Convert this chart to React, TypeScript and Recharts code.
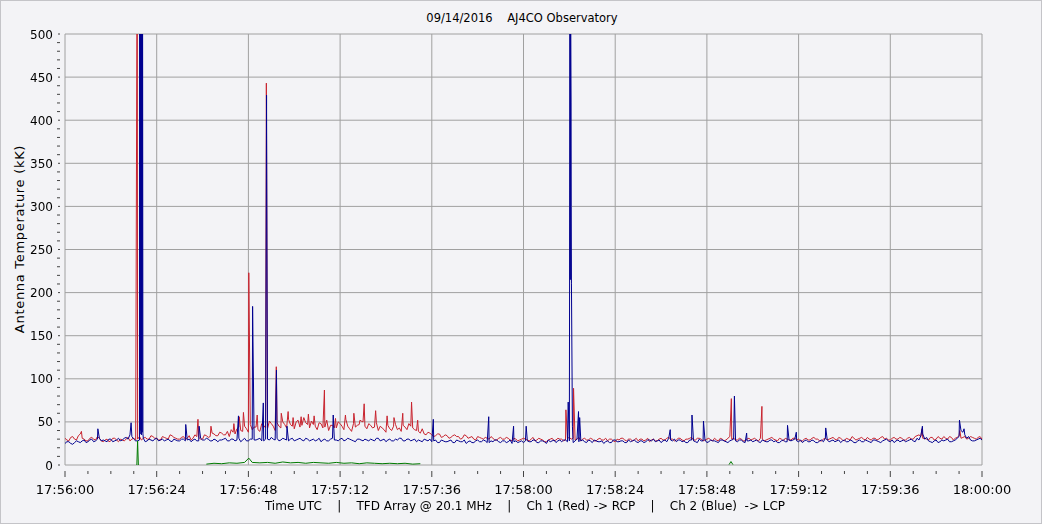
import { CartesianGrid, Line, LineChart, XAxis, YAxis } from "recharts";

// seconds after 17:56:00: readings on the whole second ...
const redBase = [
  31, 28, 33, 29, 36, 30, 28, 32, 29, 31,
  27, 30, 28, 31, 27, 29, 30, 28, 31, 30,
  29, 32, 30, 33, 31, 29, 32, 30, 34, 31,
  30, 33, 31, 29, 35, 32, 30, 34, 33, 36,
  34, 37, 35, 33, 38, 42, 40, 45, 38, 41,
  44, 39, 46, 42, 48, 40, 45, 50, 43, 47,
  42, 52, 46, 49, 43, 47, 41, 48, 44, 40,
  46, 43, 48, 41, 45, 39, 44, 47, 50, 42,
  46, 44, 40, 43, 38, 42, 45, 41, 39, 44,
  48, 43, 40, 37, 36, 38, 35, 34, 36, 33,
  34, 32, 35, 33, 31, 34, 32, 30, 33, 31,
  32, 30, 31, 29, 32, 30, 31, 28, 30, 29,
  31, 29, 30, 28, 31, 29, 27, 30, 28, 31,
  30, 29, 32, 31, 30, 28, 31, 29, 30, 28,
  31, 29, 28, 30, 27, 29, 31, 28, 30, 29,
  28, 30, 29, 27, 30, 28, 31, 29, 32, 30,
  29, 31, 28, 30, 32, 29, 31, 28, 30, 29,
  31, 28, 30, 29, 33, 31, 29, 30, 28, 31,
  30, 29, 31, 28, 30, 32, 29, 31, 28, 30,
  29, 31, 30, 28, 31, 29, 32, 30, 28, 31,
  30, 32, 29, 31, 28, 30, 33, 29, 31, 30,
  32, 29, 31, 30, 33, 31, 29, 32, 30, 31,
  29, 32, 30, 34, 33, 31, 29, 32, 30, 31,
  33, 30, 32, 31, 34, 32, 30, 33, 31, 32,
  30,
];

// ... and on the half second
const redHalf = [
  29, 32, 30, 34, 31, 28, 31, 30, 33, 28,
  29, 27, 31, 29, 30, 28, 32, 30, 29, 33,
  31, 30, 34, 31, 29, 33, 31, 35, 32, 30,
  32, 30, 34, 31, 33, 30, 35, 32, 37, 34,
  38, 35, 39, 41, 36, 44, 39, 42, 47, 44,
  41, 48, 43, 51, 45, 49, 43, 47, 53, 45,
  50, 44, 55, 47, 51, 45, 49, 43, 52, 46,
  43, 50, 45, 53, 42, 48, 46, 51, 45, 48,
  43, 49, 45, 41, 46, 40, 47, 43, 46, 41,
  45, 41, 39, 42, 35, 37, 33, 36, 32, 35,
  31, 34, 33, 30, 35, 31, 33, 29, 32, 30,
  31, 33, 29, 31, 30, 32, 29, 31, 28, 30,
  30, 28, 32, 29, 30, 27, 29, 31, 29, 30,
  28, 31, 30, 29, 32, 30, 29, 31, 28, 30,
  29, 31, 30, 28, 30, 31, 29, 30, 28, 31,
  30, 28, 31, 29, 28, 30, 29, 31, 30, 28,
  31, 29, 30, 31, 29, 31, 30, 29, 31, 28,
  29, 31, 28, 31, 30, 29, 31, 28, 30, 29,
  31, 28, 30, 29, 31, 30, 28, 30, 31, 29,
  31, 29, 28, 30, 29, 31, 30, 28, 30, 29,
  31, 30, 32, 29, 31, 29, 31, 30, 32, 29,
  30, 31, 29, 32, 30, 29, 31, 30, 32, 29,
  31, 30, 33, 35, 31, 30, 32, 29, 33, 30,
  31, 33, 29, 32, 31, 33, 31, 32, 30, 33,
];

const blueBase = [
  25, 27, 24, 28, 26, 29, 27, 30, 28, 31,
  29, 27, 30, 28, 31, 29, 32, 35, 30, 28,
  35, 27, 30, 28, 31, 29, 28, 30, 27, 29,
  28, 30, 29, 27, 30, 28, 29, 31, 28, 30,
  27, 29, 31, 28, 30, 29, 27, 31, 28, 30,
  29, 31, 28, 30, 32, 29, 28, 31, 29, 30,
  28, 30, 29, 31, 28, 30, 29, 27, 30, 28,
  31, 29, 30, 28, 31, 29, 27, 30, 28, 29,
  30, 28, 31, 29, 27, 30, 28, 29, 31, 28,
  30, 29, 27, 28, 30, 28, 27, 29, 26, 28,
  27, 29, 26, 28, 27, 25, 28, 26, 29, 27,
  28, 26, 27, 29, 26, 28, 27, 25, 28, 27,
  26, 28, 27, 29, 26, 28, 25, 27, 29, 28,
  27, 29, 28, 26, 30, 28, 27, 29, 26, 28,
  27, 25, 28, 26, 29, 27, 28, 26, 27, 29,
  26, 28, 27, 29, 30, 28, 26, 29, 31, 28,
  27, 29, 28, 26, 29, 27, 30, 28, 26, 29,
  28, 26, 29, 27, 28, 30, 27, 29, 26, 28,
  27, 29, 26, 28, 27, 29, 28, 26, 29, 27,
  28, 30, 27, 26, 29, 27, 28, 26, 29, 31,
  27, 29, 28, 26, 29, 27, 28, 26, 29, 27,
  28, 26, 29, 27, 28, 30, 27, 26, 29, 28,
  27, 29, 28, 31, 34, 30, 28, 26, 29, 27,
  28, 30, 27, 29, 33, 38, 31, 29, 28, 30,
  29,
];

const blueHalf = [
  27, 25, 26, 27, 28, 26, 29, 27, 30, 28,
  28, 30, 27, 29, 28, 31, 30, 33, 28, 29,
  31, 28, 29, 30, 28, 30, 29, 28, 30, 28,
  30, 28, 30, 29, 28, 31, 29, 30, 28, 29,
  29, 30, 28, 30, 28, 31, 29, 28, 30, 29,
  30, 28, 30, 29, 30, 31, 29, 30, 28, 31,
  29, 31, 28, 30, 29, 28, 31, 29, 28, 30,
  29, 28, 31, 29, 30, 28, 30, 29, 30, 28,
  29, 31, 28, 30, 29, 28, 30, 31, 28, 30,
  28, 30, 29, 27, 29, 30, 28, 26, 29, 27,
  28, 26, 29, 27, 29, 27, 26, 28, 27, 29,
  26, 28, 29, 27, 28, 26, 29, 27, 26, 28,
  28, 27, 29, 26, 28, 27, 29, 28, 26, 29,
  29, 27, 300, 28, 27, 29, 26, 28, 29, 27,
  28, 27, 26, 29, 27, 28, 26, 29, 28, 27,
  28, 26, 29, 28, 27, 29, 28, 27, 29, 30,
  29, 27, 26, 29, 28, 26, 28, 29, 27, 28,
  27, 29, 28, 26, 29, 28, 29, 27, 28, 29,
  28, 27, 29, 27, 29, 27, 26, 28, 27, 29,
  29, 28, 29, 28, 27, 29, 26, 28, 27, 29,
  28, 27, 29, 28, 27, 29, 26, 28, 27, 29,
  27, 29, 28, 26, 29, 28, 29, 28, 27, 29,
  28, 30, 27, 29, 36, 32, 27, 28, 26, 29,
  29, 27, 28, 31, 40, 35, 33, 28, 29, 31,
];

// [seconds, kK] short bursts between the regular readings
const redSpikes: [number, number][] = [
  [4.3, 39], [18.9, 640], [34.8, 53], [38.2, 45], [44.2, 48], [45.6, 56],
  [46.7, 61], [48.1, 223], [50.3, 58], [52.7, 443], [55.3, 114], [56.6, 60],
  [58.4, 62], [59.7, 55], [61.8, 56], [63.7, 59], [65.2, 57], [67.9, 87],
  [70.8, 54], [73.4, 58], [75.6, 60], [77.2, 52], [78.3, 71], [81.3, 63],
  [84.3, 57], [86.1, 55], [88.4, 60], [90.7, 73], [92.3, 52], [131.1, 64],
  [133.1, 89], [174.4, 77], [182.4, 68], [224.3, 42], [234.2, 40],
];

const blueSpikes: [number, number][] = [
  [8.6, 42], [17.3, 49],
  [19.55, 600], [19.65, 36], [19.75, 620], [19.85, 40], [19.95, 610],
  [20.1, 600], [20.2, 38], [20.3, 580], [20.4, 36],
  [31.6, 47], [35.1, 45], [45.4, 57], [49.1, 184], [51.9, 72],
  [52.75, 429], [55.35, 110], [58.1, 45], [70.2, 58], [96.4, 53], [110.9, 56],
  [117.4, 45], [120.7, 45], [131.7, 73],
  [132.15, 505], [132.25, 215], [132.35, 500], [132.45, 420], [132.55, 211],
  [132.8, 45], [134.4, 62], [134.7, 55], [158.4, 41], [164.1, 58], [167.1, 51],
  [175.2, 80], [178.4, 37], [189.1, 46], [191.4, 38], [199.1, 43], [224.4, 45],
  [234.1, 52], [235.3, 42],
];

const greenPoints: [number, number | null][] = [
  [18.8, 0], [19.0, 28], [19.2, 0], [20, null],
  [37, 1], [39, 2], [41, 1.5], [43, 2.5], [45, 2], [47, 3], [48.1, 8], [49, 3],
  [51, 2.5], [53, 3], [55, 2], [57, 3.5], [59, 2.5], [61, 3], [63, 2], [65, 3],
  [67, 2.5], [69, 2], [71, 3], [73, 2], [75, 2.5], [77, 1.5], [79, 2.5], [81, 2],
  [83, 1.5], [85, 2], [87, 1.5], [89, 2], [91, 1], [93, 1.5], [94, null],
  [173.8, 0.5], [174.3, 4], [174.8, 0.5], [175, null],
];

const timeLabels = [
  "17:56:00", "17:56:24", "17:56:48", "17:57:12", "17:57:36", "17:58:00",
  "17:58:24", "17:58:48", "17:59:12", "17:59:36", "18:00:00",
];

const buildSeries = (base: number[], half: number[], spikes: [number, number][]) =>
  [
    ...base.map((v, i) => ({ t: i, v })),
    ...half.map((v, i) => ({ t: i + 0.5, v })),
    ...spikes.map(([t, v]) => ({ t, v })),
  ].sort((a, b) => a.t - b.t);

const redData = buildSeries(redBase, redHalf, redSpikes);
const blueData = buildSeries(blueBase, blueHalf, blueSpikes);
const greenData = greenPoints.map(([t, v]) => ({ t, v }));

const xTicks: number[] = [];
for (let s = 0; s <= 240; s += 6) xTicks.push(s);
const yTicks: number[] = [];
for (let k = 0; k <= 500; k += 10) yTicks.push(k);

const FONT = "'DejaVu Sans', Verdana, sans-serif";

const XTick = (props: any) => {
  const { x, y, payload } = props;
  const major = payload.value % 24 === 0;
  return (
    <g>
      <line x1={x} x2={x} y1={y + 6} y2={y + (major ? 12 : 9)} stroke="#444" />
      {major ? (
        <text x={x} y={y + 29} textAnchor="middle" fontSize={13} fontFamily={FONT} fill="#000">
          {timeLabels[payload.value / 24]}
        </text>
      ) : null}
    </g>
  );
};

const YTick = (props: any) => {
  const { x, y, payload } = props;
  const major = payload.value % 50 === 0;
  return (
    <g>
      <line x1={x - (major ? 7 : 8)} x2={x - 5} y1={y} y2={y} stroke="#444" />
      {major ? (
        <text x={x - 12} y={y + 4.5} textAnchor="end" fontSize={12} fontFamily={FONT} fill="#000">
          {payload.value}
        </text>
      ) : null}
    </g>
  );
};

export default function App() {
  return (
    <div
      style={{
        position: "fixed",
        left: 0,
        top: 0,
        width: 1042,
        height: 524,
        background: "#f3f3f6",
        border: "1px solid #c4c4c8",
        boxSizing: "border-box",
        fontFamily: FONT,
        color: "#000",
      }}
    >
      <div
        style={{
          position: "absolute",
          left: 0,
          top: 10,
          width: 1042,
          textAlign: "center",
          fontSize: 11.5,
          whiteSpace: "pre",
        }}
      >
        {"09/14/2016    AJ4CO Observatory"}
      </div>
      <div
        style={{
          position: "absolute",
          left: 10,
          top: 238,
          transform: "translate(-50%, -50%) rotate(-90deg)",
          marginLeft: 8,
          fontSize: 13,
          letterSpacing: 0.7,
          whiteSpace: "pre",
        }}
      >
        Antenna Temperature (kK)
      </div>
      <div
        style={{
          position: "absolute",
          left: 0,
          top: 498,
          width: 1048,
          textAlign: "center",
          fontSize: 12,
          whiteSpace: "pre",
        }}
      >
        {"Time UTC    |    TFD Array @ 20.1 MHz    |    Ch 1 (Red) -> RCP    |    Ch 2 (Blue)  -> LCP"}
      </div>
      <div style={{ position: "absolute", left: -1, top: -1 }}>
        <LineChart width={1042} height={524} margin={{ top: 34, right: 60, bottom: 0, left: 0 }}>
          <CartesianGrid
            stroke="#a0a0a0"
            horizontalValues={[0, 50, 100, 150, 200, 250, 300, 350, 400, 450, 500]}
            verticalValues={[0, 24, 48, 72, 96, 120, 144, 168, 192, 216, 240]}
            fill="#f3f3f6"
          />
          <XAxis
            dataKey="t"
            type="number"
            domain={[0, 240]}
            ticks={xTicks}
            interval={0}
            height={59}
            tickSize={0}
            tickMargin={0}
            axisLine={false}
            tickLine={false}
            tick={<XTick />}
            allowDataOverflow
          />
          <YAxis
            type="number"
            domain={[0, 500]}
            ticks={yTicks}
            interval={0}
            width={65}
            tickSize={0}
            tickMargin={0}
            axisLine={false}
            tickLine={false}
            tick={<YTick />}
            allowDataOverflow
          />
          <Line
            data={redData}
            dataKey="v"
            type="linear"
            stroke="#c8232e"
            strokeWidth={1}
            dot={false}
            isAnimationActive={false}
          />
          <Line
            data={blueData}
            dataKey="v"
            type="linear"
            stroke="#00008f"
            strokeWidth={1}
            dot={false}
            isAnimationActive={false}
          />
          <Line
            data={greenData}
            dataKey="v"
            type="linear"
            stroke="#007a00"
            strokeWidth={1}
            dot={false}
            connectNulls={false}
            isAnimationActive={false}
          />
        </LineChart>
      </div>
    </div>
  );
}
